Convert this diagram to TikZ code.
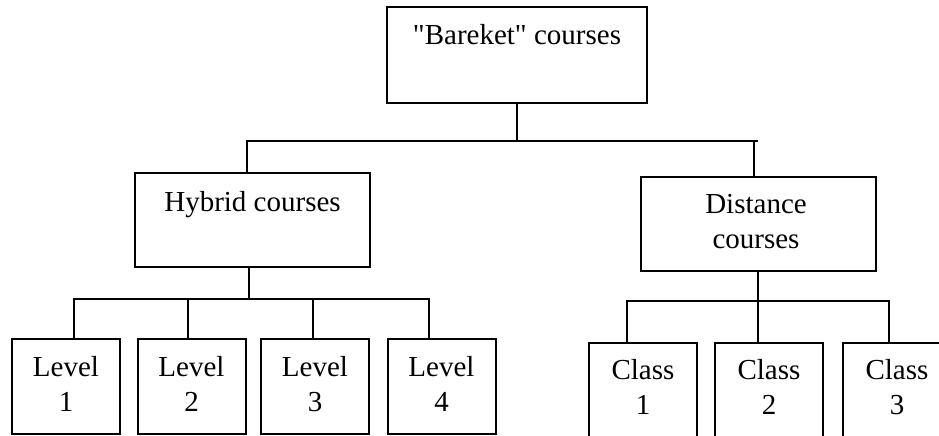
\documentclass[tikz,border=0pt]{standalone}
\usepackage{fontspec}
\setmainfont{Liberation Serif}
\usetikzlibrary{calc}
\begin{document}
\begin{tikzpicture}[x=1pt,y=-1pt,
  line width=2pt,
  box/.style={draw=black, line width=2pt, rectangle, inner sep=0pt, outer sep=0pt},
  txt/.style={anchor=base, inner sep=0pt, align=center, font=\fontsize{29}{34.5}\selectfont},
  link/.style={draw=black, line width=2pt}]
\useasboundingbox (0,0) rectangle (939,436);
\clip (0,0) rectangle (939,436);
% boxes
\node[box, minimum width=260pt, minimum height=96pt] (top) at (517,55) {};
\node[box, minimum width=235pt, minimum height=94pt] (hyb) at (252.5,220) {};
\node[box, minimum width=235pt, minimum height=94pt] (dist) at (758.5,224) {};
\foreach \n/\x in {L1/66, L2/191.5, L3/315, L4/441.5}
  \node[box, minimum width=108pt, minimum height=95pt] (\n) at (\x,386.5) {};
\foreach \n/\x in {C1/643, C2/769, C3/897}
  \node[box, minimum width=108pt, minimum height=100pt] (\n) at (\x,393) {};
% texts (multi-line texts are anchored at the baseline of their last line)
\node[txt] (ttop) at ([yshift=-38pt]top.north) {\textquotedbl Bareket\textquotedbl{} courses};
\node[txt] (thyb) at ([yshift=-38pt]hyb.north) {Hybrid courses};
\node[txt] (tdist) at ([xshift=-2.5pt,yshift=-71pt]dist.north) {Distance\\courses};
\foreach \n/\k in {L1/1, L2/2, L3/3, L4/4}
  \node[txt] (t\n) at ([yshift=-72pt]\n.north) {Level\\\k};
\foreach \n/\k in {C1/1, C2/2, C3/3}
  \node[txt] (t\n) at ([yshift=-71pt]\n.north) {Class\\\k};
% connectors
\coordinate (b1) at (517,141);
\coordinate (b2) at (249,299);
\coordinate (b3) at (758,301);
\coordinate (b1end) at (758,141);
\draw[link] (top.south) -- (b1);
\draw[link] ([xshift=-5.5pt]hyb.north) |- (b1end);
\draw[link] ([xshift=-4.5pt]dist.north) -- ([xshift=-4.5pt]dist.north |- b1);
\draw[link] ([xshift=-3.5pt]hyb.south) -- (b2);
\draw[link] ([xshift=8pt]L1.north) |- (b2) -| ([xshift=-12.5pt]L4.north);
\draw[link] ([xshift=-3.5pt]L2.north) -- ([xshift=-3.5pt]L2.north |- b2);
\draw[link] ([xshift=-2pt]L3.north) -- ([xshift=-2pt]L3.north |- b2);
\draw[link] ([xshift=-0.5pt]dist.south) -- (b3);
\draw[link] ([xshift=-16pt]C1.north) |- (b3) -| ([xshift=-8pt]C3.north);
\draw[link] ([xshift=-11pt]C2.north) -- ([xshift=-11pt]C2.north |- b3);
\end{tikzpicture}
\end{document}
